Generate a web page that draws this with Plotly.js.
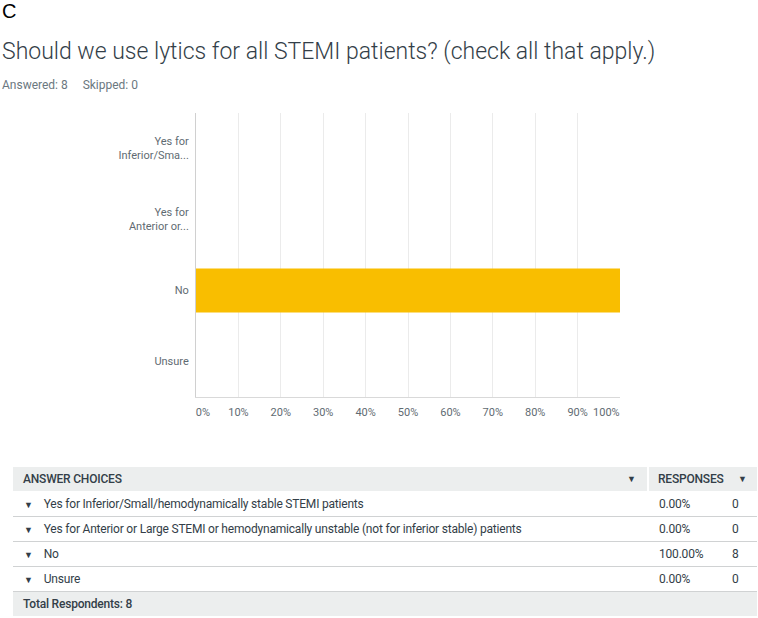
<!DOCTYPE html>
<html>
<head>
<meta charset="utf-8">
<script src="https://cdn.plot.ly/plotly-3.0.1.min.js"></script>
<style>
  body { margin: 0; background: #fff; width: 758px; height: 618px; overflow: hidden; position: relative; font-family: Roboto, sans-serif; }
  #letter { position: absolute; left: 2px; top: 0px; font: 20px "Liberation Sans", Arial, sans-serif; color: #000; }
  #title { position: absolute; left: 2px; top: 38px; font-family: Roboto, sans-serif; font-weight: 300; font-size: 23px; color: #333e48; white-space: nowrap; }
  #meta { position: absolute; left: 2px; top: 78px; font-family: Roboto, sans-serif; font-size: 12px; color: #6b787f; white-space: pre; }
  #chart { position: absolute; left: 0; top: 100px; width: 758px; height: 330px; }
  #tbl { position: absolute; left: 13px; top: 467px; width: 744px; table-layout: fixed; border-collapse: collapse; font-family: Roboto, sans-serif; font-size: 12px; letter-spacing: -0.2px; color: #333e48; }
  #tbl td { height: 24px; padding: 0; border-bottom: 1px solid #d0d2d3; white-space: nowrap; overflow: hidden; }
  #tbl tr.head td, #tbl tr.foot td { background: #eceeee; font-weight: 500; border-bottom: 1px solid #fff; }
  #tbl tr.foot td { border-bottom: none; }
  .arr { font-size: 9px; color: #333e48; }
</style>
</head>
<body>
<div id="letter">C</div>
<div id="title">Should we use lytics for all STEMI patients? (check all that apply.)</div>
<div id="meta">Answered: 8     Skipped: 0</div>
<div id="chart"></div>
<table id="tbl"></table>
<script>
// answer choices (full text for table, shortened for the axis)
var choices = [
  "Yes for Inferior/Small/hemodynamically stable STEMI patients",
  "Yes for Anterior or Large STEMI or hemodynamically unstable (not for inferior stable) patients",
  "No",
  "Unsure"
];
var axisLabels = ["Yes for<br>Inferior/Sma...", "Yes for<br>Anterior or...", "No", "Unsure"];
var pct = [0, 0, 100, 0];
var pctText = ["0.00%", "0.00%", "100.00%", "0.00%"];
var counts = [0, 0, 8, 0];
var totalRespondents = 8;
var xTicks = [0, 10, 20, 30, 40, 50, 60, 70, 80, 90, 100];
var nb = "\u00a0";
var xTickText = [nb.repeat(5) + "0%", "10%", "20%", "30%", "40%", "50%", "60%", "70%", "80%", "90%", "100%" + nb.repeat(10)];

var trace = {
  type: "bar",
  orientation: "h",
  x: pct,
  y: axisLabels,
  marker: {color: "#f9be00"},
  hoverinfo: "x+y"
};

var layout = {
  width: 758,
  height: 330,
  margin: {l: 196, r: 138, t: 13, b: 33},
  paper_bgcolor: "#fff",
  plot_bgcolor: "#fff",
  bargap: 0.38,
  showlegend: false,
  font: {family: "Roboto, sans-serif", size: 11, color: "#5f6b72"},
  xaxis: {
    range: [0, 100],
    tickvals: xTicks,
    ticktext: xTickText,
    showgrid: true,
    gridcolor: "#ebebeb",
    zeroline: false,
    showline: true,
    linecolor: "#d9d9d9",
    ticks: "",
    ticklabelstandoff: 5,
    fixedrange: true
  },
  yaxis: {
    autorange: "reversed",
    showgrid: false,
    zeroline: false,
    showline: true,
    linecolor: "#d0d0d0",
    ticks: "",
    ticklabelstandoff: 4,
    fixedrange: true
  }
};

Plotly.newPlot("chart", [trace], layout, {displayModeBar: false, staticPlot: true});

// answer table
var tbl = document.getElementById("tbl");
var html = '<colgroup><col style="width:614px"><col style="width:21px"><col style="width:79px"><col style="width:30px"></colgroup>' +
  '<tr class="head"><td style="padding-left:10px">ANSWER CHOICES</td>' +
  '<td class="arr">&#9660;</td>' +
  '<td style="padding-left:9px;border-left:2px solid #fff">RESPONSES</td>' +
  '<td class="arr" style="padding-left:11px">&#9660;</td></tr>';
for (var i = 0; i < choices.length; i++) {
  html += '<tr><td colspan="2" style="padding-left:11px"><span class="arr" style="margin-right:11px">&#9660;</span>' +
    choices[i] + '</td><td style="padding-left:11px">' + pctText[i] + '</td><td style="padding-left:5px">' + counts[i] + '</td></tr>';
}
html += '<tr class="foot"><td colspan="4" style="padding-left:10px">Total Respondents: ' + totalRespondents + '</td></tr>';
tbl.innerHTML = html;
</script>
</body>
</html>
